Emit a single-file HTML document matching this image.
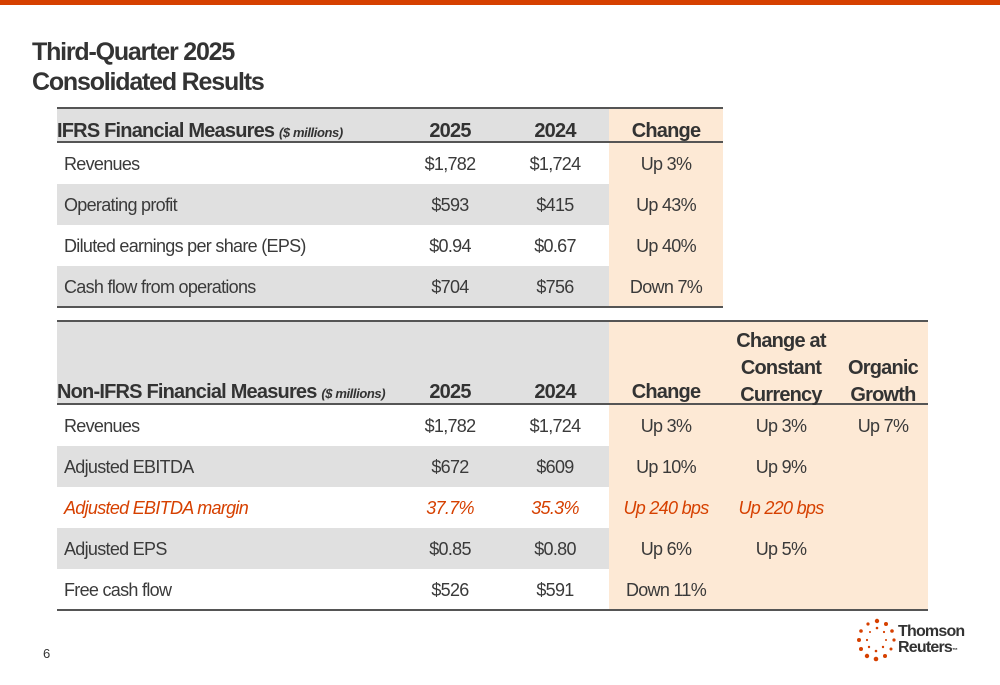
<!DOCTYPE html>
<html><head><meta charset="utf-8"><style>
*{margin:0;padding:0;box-sizing:border-box}
body{width:1000px;height:685px;background:#fff;position:relative;overflow:hidden;font-family:"Liberation Sans",sans-serif;color:#3a3a3a}
.a{position:absolute}
.t{position:absolute;font-size:18px;letter-spacing:-0.7px;line-height:20px;white-space:nowrap}
.c{transform:translateX(-50%);text-align:center}
.h{font-weight:bold;font-size:20px;letter-spacing:-0.8px;color:#333}
.o{color:#d64000;font-style:italic}
.line{position:absolute;height:2px;background:#555}
</style></head><body>
<div class="a" style="left:0;top:0;width:1000px;height:5px;background:#d64000"></div>
<div class="a" style="left:32px;top:37px;font-size:25px;font-weight:bold;letter-spacing:-1.2px;line-height:30px;color:#333">Third-Quarter 2025<br>Consolidated Results</div>

<!-- table 1 -->
<div>
<div class="a" style="left:57px;top:108px;width:552px;height:34px;background:#e0e0e0"></div>
<div class="a" style="left:57px;top:184px;width:552px;height:41px;background:#e0e0e0"></div>
<div class="a" style="left:57px;top:266px;width:552px;height:41px;background:#e0e0e0"></div>
<div class="a" style="left:609px;top:108px;width:114px;height:199px;background:#fde9d5"></div>
<div class="line" style="left:57px;top:107px;width:666px"></div>
<div class="line" style="left:57px;top:141px;width:666px"></div>
<div class="line" style="left:57px;top:306px;width:666px"></div>
<div class="t h" style="left:57px;top:121px">IFRS Financial Measures <i style="font-size:13px;letter-spacing:-0.4px">($ millions)</i></div>
<div class="t h c" style="left:450px;top:121px">2025</div>
<div class="t h c" style="left:555px;top:121px">2024</div>
<div class="t h c" style="left:666px;top:121px">Change</div>
<div class="t" style="left:64px;top:154px">Revenues</div><div class="t c" style="left:450px;top:154px">$1,782</div><div class="t c" style="left:555px;top:154px">$1,724</div><div class="t c" style="left:666px;top:154px">Up 3%</div>
<div class="t" style="left:64px;top:195px">Operating profit</div><div class="t c" style="left:450px;top:195px">$593</div><div class="t c" style="left:555px;top:195px">$415</div><div class="t c" style="left:666px;top:195px">Up 43%</div>
<div class="t" style="left:64px;top:236px">Diluted earnings per share (EPS)</div><div class="t c" style="left:450px;top:236px">$0.94</div><div class="t c" style="left:555px;top:236px">$0.67</div><div class="t c" style="left:666px;top:236px">Up 40%</div>
<div class="t" style="left:64px;top:277px">Cash flow from operations</div><div class="t c" style="left:450px;top:277px">$704</div><div class="t c" style="left:555px;top:277px">$756</div><div class="t c" style="left:666px;top:277px">Down 7%</div>
</div>

<!-- table 2 -->
<div>
<div class="a" style="left:57px;top:321px;width:552px;height:83px;background:#e0e0e0"></div>
<div class="a" style="left:57px;top:446px;width:552px;height:41px;background:#e0e0e0"></div>
<div class="a" style="left:57px;top:528px;width:552px;height:41px;background:#e0e0e0"></div>
<div class="a" style="left:609px;top:321px;width:319px;height:289px;background:#fde9d5"></div>
<div class="line" style="left:57px;top:320px;width:871px"></div>
<div class="line" style="left:57px;top:403px;width:871px"></div>
<div class="line" style="left:57px;top:609px;width:871px"></div>
<div class="t h" style="left:57px;top:382px">Non-IFRS Financial Measures <i style="font-size:13px;letter-spacing:-0.4px">($ millions)</i></div>
<div class="t h c" style="left:450px;top:382px">2025</div>
<div class="t h c" style="left:555px;top:382px">2024</div>
<div class="t h c" style="left:666px;top:382px">Change</div>
<div class="t h c" style="left:781px;top:328px;line-height:27px">Change at<br>Constant<br>Currency</div>
<div class="t h c" style="left:883px;top:355px;line-height:27px">Organic<br>Growth</div>
<div class="t" style="left:64px;top:416px">Revenues</div><div class="t c" style="left:450px;top:416px">$1,782</div><div class="t c" style="left:555px;top:416px">$1,724</div><div class="t c" style="left:666px;top:416px">Up 3%</div><div class="t c" style="left:781px;top:416px">Up 3%</div><div class="t c" style="left:883px;top:416px">Up 7%</div>
<div class="t" style="left:64px;top:457px">Adjusted EBITDA</div><div class="t c" style="left:450px;top:457px">$672</div><div class="t c" style="left:555px;top:457px">$609</div><div class="t c" style="left:666px;top:457px">Up 10%</div><div class="t c" style="left:781px;top:457px">Up 9%</div>
<div class="t o" style="left:64px;top:498px">Adjusted EBITDA margin</div><div class="t c o" style="left:450px;top:498px">37.7%</div><div class="t c o" style="left:555px;top:498px">35.3%</div><div class="t c o" style="left:666px;top:498px">Up 240 bps</div><div class="t c o" style="left:781px;top:498px">Up 220 bps</div>
<div class="t" style="left:64px;top:539px">Adjusted EPS</div><div class="t c" style="left:450px;top:539px">$0.85</div><div class="t c" style="left:555px;top:539px">$0.80</div><div class="t c" style="left:666px;top:539px">Up 6%</div><div class="t c" style="left:781px;top:539px">Up 5%</div>
<div class="t" style="left:64px;top:580px">Free cash flow</div><div class="t c" style="left:450px;top:580px">$526</div><div class="t c" style="left:555px;top:580px">$591</div><div class="t c" style="left:666px;top:580px">Down 11%</div>
</div>

<div class="a" style="left:43px;top:646px;font-size:13px;color:#333">6</div>
<div class="a" style="left:856px;top:617px;width:110px;height:46px">
<svg width="42" height="46" viewBox="0 0 42 46" style="position:absolute;left:0;top:0">
<g fill="#d64000">
<circle cx="21" cy="4" r="2.2"/><circle cx="30" cy="7" r="2"/><circle cx="36" cy="14" r="1.8"/><circle cx="38" cy="23" r="1.6"/><circle cx="35" cy="32" r="1.5"/><circle cx="29" cy="39" r="2"/><circle cx="20" cy="42" r="2.3"/><circle cx="11" cy="39" r="2.2"/><circle cx="5" cy="32" r="2"/><circle cx="3" cy="23" r="2"/><circle cx="5" cy="14" r="1.8"/><circle cx="12" cy="7" r="1.6"/>
<circle cx="21" cy="11" r="1.3"/><circle cx="28" cy="15" r="1.1"/><circle cx="30" cy="23" r="1"/><circle cx="27" cy="30" r="1.2"/><circle cx="20" cy="34" r="1.3"/><circle cx="13" cy="30" r="1.2"/><circle cx="11" cy="23" r="1.1"/><circle cx="14" cy="15" r="1"/>
</g></svg>
<div class="a" style="left:42px;top:7px;font-size:16px;font-weight:bold;letter-spacing:-0.8px;line-height:16px;color:#333">Thomson<br>Reuters<span style="font-size:6px">™</span></div>
</div>
</body></html>
